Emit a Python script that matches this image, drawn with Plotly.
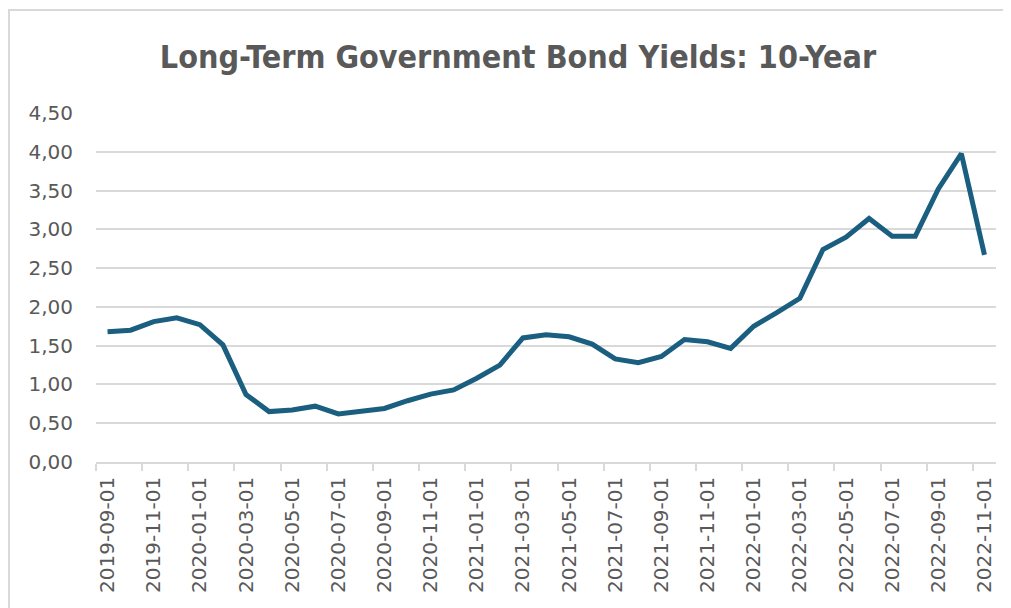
import plotly.graph_objects as go

dates = [
    "2019-09-01", "2019-10-01", "2019-11-01", "2019-12-01",
    "2020-01-01", "2020-02-01", "2020-03-01", "2020-04-01", "2020-05-01", "2020-06-01",
    "2020-07-01", "2020-08-01", "2020-09-01", "2020-10-01", "2020-11-01", "2020-12-01",
    "2021-01-01", "2021-02-01", "2021-03-01", "2021-04-01", "2021-05-01", "2021-06-01",
    "2021-07-01", "2021-08-01", "2021-09-01", "2021-10-01", "2021-11-01", "2021-12-01",
    "2022-01-01", "2022-02-01", "2022-03-01", "2022-04-01", "2022-05-01", "2022-06-01",
    "2022-07-01", "2022-08-01", "2022-09-01", "2022-10-01", "2022-11-01",
]
yields = [
    1.68, 1.70, 1.81, 1.86,
    1.77, 1.51, 0.87, 0.65, 0.67, 0.72,
    0.62, 0.65, 0.69, 0.79, 0.875, 0.93,
    1.08, 1.25, 1.60, 1.64, 1.615, 1.52,
    1.33, 1.28, 1.36, 1.58, 1.55, 1.465,
    1.75, 1.925, 2.11, 2.74, 2.90, 3.14,
    2.91, 2.91, 3.52, 3.975, 2.67,
]

title_text = "Long-Term Government Bond Yields: 10-Year"

# page body has an 8px margin, so the figure is offset by (8, 8) in the window
OFF = 8
W, H = 1011 - OFF, 608 - OFF
L, R, T, B = 96 - OFF, 15, 113 - OFF, 146
pw, ph = W - L - R, H - T - B

def px_to_paper_x(px):
    return (px - OFF - L) / pw

def px_to_paper_y(py):
    return (H - B - (py - OFF)) / ph

fig = go.Figure()
fig.add_trace(go.Scatter(
    x=dates, y=yields, mode="lines",
    line=dict(color="#1a5e80", width=5),
    showlegend=False,
))

tick_font = dict(family="DejaVu Sans, Liberation Sans, sans-serif", size=20, color="#595959")

fig.update_layout(
    width=W, height=H,
    margin=dict(l=L, r=R, t=T, b=B),
    paper_bgcolor="white", plot_bgcolor="white",
    separators=", ",
    title=dict(
        text=title_text,
        x=px_to_paper_x(518), xref="paper", xanchor="center",
        y=1 - (57 - OFF) / H, yref="container", yanchor="middle",
        font=dict(family="Liberation Sans Narrow, DejaVu Sans Condensed, Roboto Condensed, Arial Narrow, sans-serif",
                  size=32, color="#595959", weight="bold"),
    ),
    xaxis=dict(
        type="category",
        range=[-0.5, len(dates) - 0.5],
        tickmode="linear", tick0=0, dtick=2,
        tickson="boundaries",
        ticks="outside", ticklen=7, tickcolor="#d9d9d9", tickwidth=1.5,
        tickangle=-90,
        tickfont=tick_font,
        ticklabelstandoff=5,
        showgrid=False,
        showline=True, linecolor="#d9d9d9", linewidth=1.5,
        zeroline=False,
    ),
    yaxis=dict(
        range=[0, 4.5],
        tickmode="linear", tick0=0, dtick=0.5,
        tickformat=".2f",
        tickfont=tick_font,
        ticks="",
        ticklabelstandoff=22,
        showgrid=True, gridcolor="#d9d9d9", gridwidth=1.5,
        zeroline=False, showline=False,
    ),
    shapes=[dict(
        type="rect", xref="paper", yref="paper",
        x0=px_to_paper_x(9), x1=px_to_paper_x(1040),
        y0=px_to_paper_y(650), y1=px_to_paper_y(10),
        line=dict(color="#d9d9d9", width=2),
        fillcolor="rgba(0,0,0,0)", layer="below",
    )],
)

fig.write_html("out.html")
